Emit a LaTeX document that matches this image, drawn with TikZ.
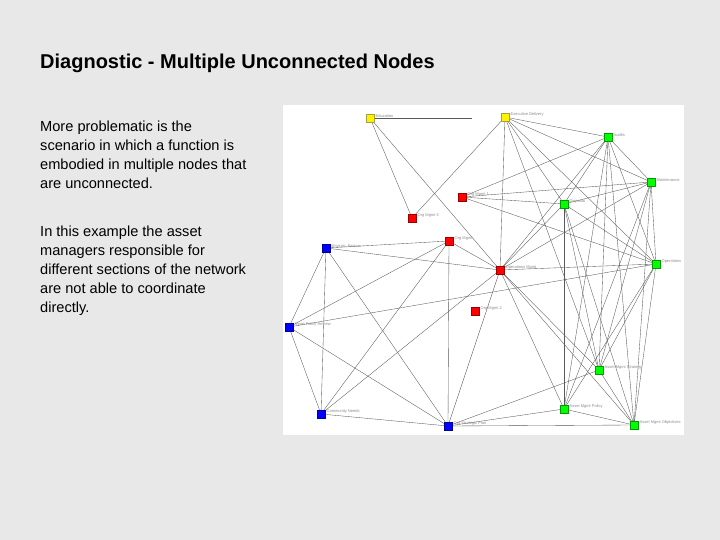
\documentclass[tikz,border=0pt]{standalone}
\usepackage{fontspec}
\setmainfont{Liberation Sans}
\begin{document}
\begin{tikzpicture}[x=1pt,y=-1pt,
  nd/.style={draw=#1!60!black, fill=#1, line width=0.4pt, minimum size=7.5pt, inner sep=0pt, rectangle},
  lbl/.style={font=\fontsize{4}{4}\selectfont, text=black!45, anchor=south west, inner sep=0.5pt},
  ed/.style={draw=black!65, line width=0.35pt},
  bodytext/.style={anchor=north west, align=left, font=\fontsize{14.6}{19}\selectfont, inner sep=0pt, text=black}]
\useasboundingbox (0,0) rectangle (720,540);
\fill[black!9] (0,0) rectangle (720,540);
\fill[white] (283,105) rectangle (684,435);

\node[anchor=base west, inner sep=0pt, font=\fontsize{20}{24}\bfseries\selectfont] (title) at (40,69) {Diagnostic - Multiple Unconnected Nodes};

\node[bodytext] (p1) at (40,121) {More problematic is the\\scenario in which a function is\\embodied in multiple nodes that\\are unconnected.};
\node[bodytext] (p2) at (40,226) {In this example the asset\\managers responsible for\\different sections of the network\\are not able to coordinate\\directly.};

% nodes
\coordinate (y1) at (370,118);
\coordinate (y2) at (505,117);
\coordinate (au) at (608,137);
\coordinate (mt) at (651,182);
\coordinate (om1) at (462,197);
\coordinate (dp) at (564,204);
\coordinate (om2) at (412,218);
\coordinate (om) at (449,241);
\coordinate (ef) at (326,248);
\coordinate (opm) at (500,270);
\coordinate (op) at (656,264);
\coordinate (om3) at (475,311);
\coordinate (apr) at (289,327);
\coordinate (cn) at (321,414);
\coordinate (osp) at (448,426);
\coordinate (ams) at (599,370);
\coordinate (amp) at (564,409);
\coordinate (amo) at (634,425);
\coordinate (c1) at (472,118);

\foreach \a/\b in {y1/c1, y1/om2, y1/opm, om2/y2,
  y2/au, y2/mt, y2/dp, y2/op, y2/opm, y2/ams,
  om1/au, om1/mt, om1/op, om1/dp,
  au/mt, au/dp, au/opm, au/op, au/ams, au/amp, au/amo,
  mt/dp, mt/opm, mt/op, mt/ams, mt/amp, mt/amo,
  dp/opm, dp/op, dp/amp, dp/ams, dp/amo,
  op/opm, op/ams, op/amo, op/amp,
  opm/om, opm/ams, opm/amp, opm/amo, opm/cn, opm/osp,
  om/ef, om/osp, om/apr, om/cn,
  ef/opm, ef/apr, ef/cn, ef/osp,
  apr/cn, apr/osp, apr/op,
  cn/osp, osp/ams, osp/amp, osp/amo, ams/amo, amp/amo}
  \draw[ed] (\a) -- (\b);

\foreach \n/\c/\t in {y1/yellow/Education, y2/yellow/Executive Delivery,
  au/green/Audits, mt/green/Maintenance, om1/red/Org Mgmt 1, dp/green/Disposal,
  om2/red/Org Mgmt II, om/red/Org Mgmt, ef/blue/Environ. Factors,
  opm/red/Operations Mgmt, op/green/Operations, om3/red/Org Mgmt 2,
  apr/blue/Asset Policy Review, cn/blue/Community Needs, osp/blue/Org Strategic Plan,
  ams/green/Asset Mgmt Strategy, amp/green/Asset Mgmt Policy, amo/green/Asset Mgmt Objectives}
{
  \node[nd=\c] (\n-box) at (\n) {};
  \node[lbl] (\n-lbl) at ([xshift=1pt,yshift=0pt]\n-box.east) {\t};
}
\end{tikzpicture}
\end{document}
